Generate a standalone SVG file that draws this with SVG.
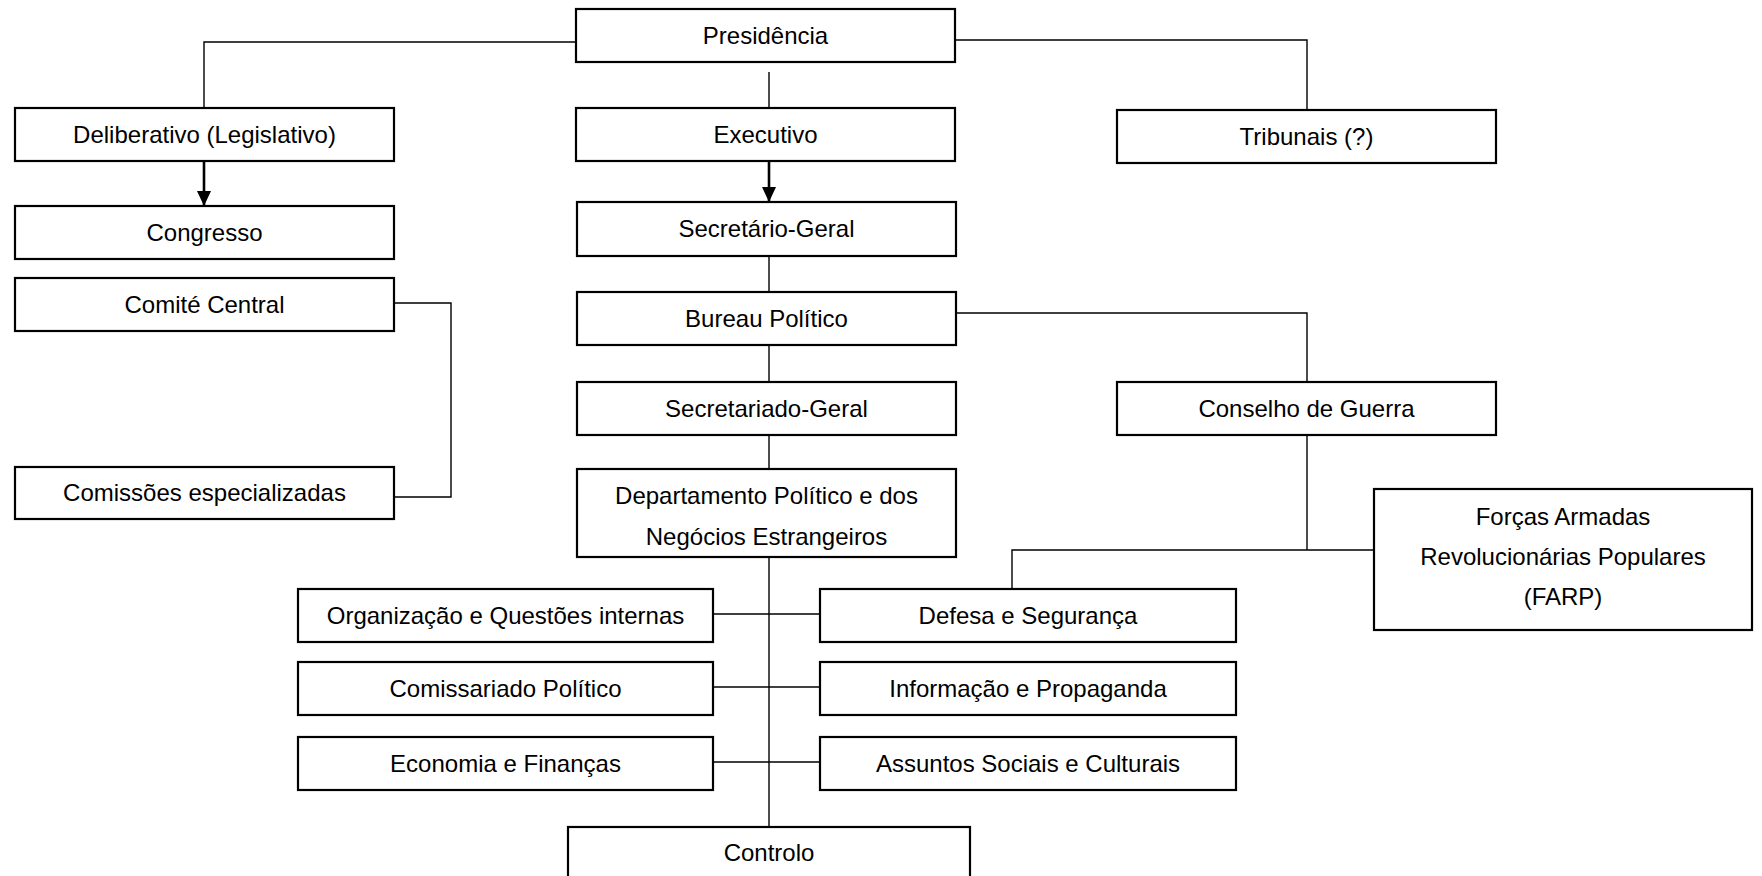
<svg xmlns="http://www.w3.org/2000/svg" width="1762" height="876" viewBox="0 0 1762 876">
<style>
.box{fill:#fff;stroke:#000;stroke-width:2.2}
.t{font-family:"Liberation Sans",Arial,sans-serif;font-size:24px;fill:#000;text-anchor:middle}
.c{fill:none;stroke:#000;stroke-width:1.4}
.a{fill:none;stroke:#000;stroke-width:2.6}
</style>
<defs>
<marker id="arr" viewBox="0 0 15 14" refX="15" refY="7" markerWidth="15" markerHeight="14" markerUnits="userSpaceOnUse" orient="auto">
<path d="M0,0 L15,7 L0,14 z" fill="#000"/>
</marker>
</defs>
<rect width="1762" height="876" fill="#fff"/>
<g id="connectors">
<path class="c" d="M576,42 H204 V108"/>
<path class="c" d="M955,40 H1307 V110"/>
<path class="c" d="M769,72 V108"/>
<path class="a" d="M204,161 V206" marker-end="url(#arr)"/>
<path class="a" d="M769,161 V202" marker-end="url(#arr)"/>
<path class="c" d="M769,256 V292"/>
<path class="c" d="M769,345 V382"/>
<path class="c" d="M769,435 V469"/>
<path class="c" d="M769,557 V827"/>
<path class="c" d="M956,313 H1307 V382"/>
<path class="c" d="M1307,435 V550"/>
<path class="c" d="M1012,589 V550 H1374"/>
<path class="c" d="M394,303 H451 V497 H394"/>
<path class="c" d="M713,614 H820"/>
<path class="c" d="M713,687 H820"/>
<path class="c" d="M713,762 H820"/>
</g>
<g id="presidencia"><rect class="box" x="576" y="9" width="379" height="53"/><text class="t" x="765.5" y="43.5">Presidência</text></g>
<g id="deliberativo"><rect class="box" x="15" y="108" width="379" height="53"/><text class="t" x="204.5" y="142.5">Deliberativo (Legislativo)</text></g>
<g id="executivo"><rect class="box" x="576" y="108" width="379" height="53"/><text class="t" x="765.5" y="142.5">Executivo</text></g>
<g id="tribunais"><rect class="box" x="1117" y="110" width="379" height="53"/><text class="t" x="1306.5" y="144.5">Tribunais (?)</text></g>
<g id="congresso"><rect class="box" x="15" y="206" width="379" height="53"/><text class="t" x="204.5" y="240.5">Congresso</text></g>
<g id="secretario-geral"><rect class="box" x="577" y="202" width="379" height="54"/><text class="t" x="766.5" y="237">Secretário-Geral</text></g>
<g id="comite-central"><rect class="box" x="15" y="278" width="379" height="53"/><text class="t" x="204.5" y="312.5">Comité Central</text></g>
<g id="bureau-politico"><rect class="box" x="577" y="292" width="379" height="53"/><text class="t" x="766.5" y="326.5">Bureau Político</text></g>
<g id="secretariado-geral"><rect class="box" x="577" y="382" width="379" height="53"/><text class="t" x="766.5" y="416.5">Secretariado-Geral</text></g>
<g id="conselho-guerra"><rect class="box" x="1117" y="382" width="379" height="53"/><text class="t" x="1306.5" y="416.5">Conselho de Guerra</text></g>
<g id="comissoes"><rect class="box" x="15" y="467" width="379" height="52"/><text class="t" x="204.5" y="500.5">Comissões especializadas</text></g>
<g id="departamento"><rect class="box" x="577" y="469" width="379" height="88"/><text class="t" x="766.5" y="504">Departamento Político e dos</text><text class="t" x="766.5" y="545">Negócios Estrangeiros</text></g>
<g id="farp"><rect class="box" x="1374" y="489" width="378" height="141"/><text class="t" x="1563" y="524.5">Forças Armadas</text><text class="t" x="1563" y="564.5">Revolucionárias Populares</text><text class="t" x="1563" y="605">(FARP)</text></g>
<g id="organizacao"><rect class="box" x="298" y="589" width="415" height="53"/><text class="t" x="505.5" y="623.5">Organização e Questões internas</text></g>
<g id="defesa"><rect class="box" x="820" y="589" width="416" height="53"/><text class="t" x="1028" y="623.5">Defesa e Segurança</text></g>
<g id="comissariado"><rect class="box" x="298" y="662" width="415" height="53"/><text class="t" x="505.5" y="696.5">Comissariado Político</text></g>
<g id="informacao"><rect class="box" x="820" y="662" width="416" height="53"/><text class="t" x="1028" y="696.5">Informação e Propaganda</text></g>
<g id="economia"><rect class="box" x="298" y="737" width="415" height="53"/><text class="t" x="505.5" y="771.5">Economia e Finanças</text></g>
<g id="assuntos"><rect class="box" x="820" y="737" width="416" height="53"/><text class="t" x="1028" y="771.5">Assuntos Sociais e Culturais</text></g>
<g id="controlo"><rect class="box" x="568" y="827" width="402" height="70"/><text class="t" x="769" y="861">Controlo</text></g>
</svg>
